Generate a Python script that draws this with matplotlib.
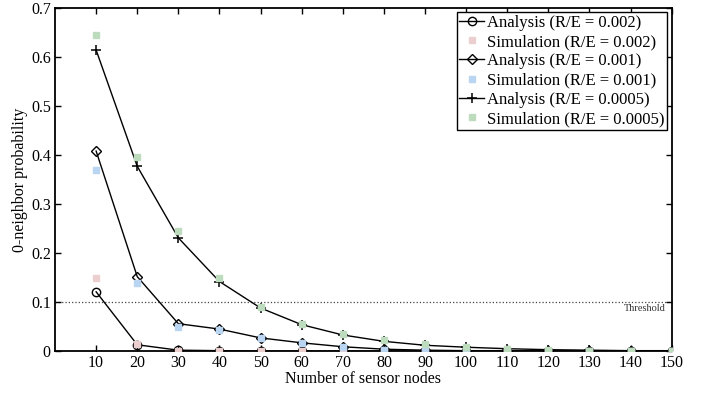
import numpy as np
import matplotlib.pyplot as plt
from matplotlib.lines import Line2D

plt.rcParams['font.family'] = ['Liberation Serif', 'DejaVu Serif']

nodes = [10, 20, 30, 40, 50, 60, 70, 80, 90, 100, 110, 120, 130, 140, 150]

ana_002 = [0.121, 0.013, 0.002, 0.001, 0.0, 0.0, 0.0, 0.0, 0.0, 0.0, 0.0, 0.0, 0.0, 0.0, 0.0]
sim_002 = [0.150, 0.015, 0.001, 0.0, 0.0, 0.0, 0.0, 0.0, 0.0, 0.0, 0.0, 0.0, 0.0, 0.0, 0.0]
ana_001 = [0.408, 0.152, 0.056, 0.045, 0.027, 0.017, 0.009, 0.004, 0.002, 0.001, 0.001, 0.0, 0.0, 0.0, 0.0]
sim_001 = [0.370, 0.138, 0.049, 0.043, 0.026, 0.016, 0.009, 0.003, 0.002, 0.001, 0.0, 0.0, 0.0, 0.0, 0.0]
ana_0005 = [0.614, 0.377, 0.231, 0.142, 0.088, 0.054, 0.033, 0.020, 0.012, 0.008, 0.005, 0.003, 0.002, 0.001, 0.001]
sim_0005 = [0.645, 0.395, 0.245, 0.150, 0.090, 0.055, 0.035, 0.022, 0.014, 0.009, 0.005, 0.003, 0.001, 0.001, 0.0]

threshold = 0.1

fig = plt.figure(figsize=(7.1, 3.95), dpi=100)
ax = fig.add_axes([0.0775, 0.111, 0.8685, 0.869])

pink = '#ebcfcf'
blue = '#b9d5f2'
green = '#bddcbd'

ax.axhline(threshold, color='#444444', linestyle=':', linewidth=0.9, zorder=1)
ax.text(148.5, threshold - 0.004, 'Threshold', fontsize=7.5, ha='right', va='top',
        color='#333333')

ax.plot(nodes, ana_002, '-', color='black', marker='o', mfc='none', mec='black',
        markersize=6, linewidth=1, zorder=3)
ax.plot(nodes, ana_001, '-', color='black', marker='D', mfc='none', mec='black',
        markersize=5, linewidth=1, zorder=3)
ax.plot(nodes, ana_0005, '-', color='black', marker='+', mec='black',
        markersize=7, markeredgewidth=1.1, linewidth=1, zorder=3)

ax.plot(nodes, sim_002, 's', color=pink, markersize=5, zorder=4)
ax.plot(nodes, sim_001, 's', color=blue, markersize=5, zorder=4)
ax.plot(nodes, sim_0005, 's', color=green, markersize=5, zorder=4)

ax.set_xlim(0, 150)
ax.set_ylim(0, 0.7)
ax.set_xticks(nodes)
ax.set_xticklabels([str(n) for n in nodes])
ax.set_yticks([0, 0.1, 0.2, 0.3, 0.4, 0.5, 0.6, 0.7])
ax.set_yticklabels(['0', '0.1', '0.2', '0.3', '0.4', '0.5', '0.6', '0.7'])
ax.tick_params(direction='in', top=True, right=True, labelsize=11.5, length=4,
               width=1, pad=3)
for s in ax.spines.values():
    s.set_linewidth(1.3)

ax.set_xlabel('Number of sensor nodes', fontsize=11.5, labelpad=0)
ax.set_ylabel('0-neighbor probability', fontsize=11.5, labelpad=2)

handles = [
    Line2D([], [], color='black', marker='o', mfc='none', markersize=6, linewidth=1),
    Line2D([], [], color=pink, marker='s', linestyle='none', markersize=5),
    Line2D([], [], color='black', marker='D', mfc='none', markersize=5, linewidth=1),
    Line2D([], [], color=blue, marker='s', linestyle='none', markersize=5),
    Line2D([], [], color='black', marker='+', markersize=7, markeredgewidth=1.1, linewidth=1),
    Line2D([], [], color=green, marker='s', linestyle='none', markersize=5),
]
labels = ['Analysis (R/E = 0.002)', 'Simulation (R/E = 0.002)',
          'Analysis (R/E = 0.001)', 'Simulation (R/E = 0.001)',
          'Analysis (R/E = 0.0005)', 'Simulation (R/E = 0.0005)']
leg = ax.legend(handles, labels, loc='upper right', fontsize=12, fancybox=False,
                edgecolor='black', framealpha=1, borderpad=0.15, labelspacing=0.2,
                handlelength=1.5, handletextpad=0.2, borderaxespad=0.25)
leg.get_frame().set_linewidth(1.0)

fig.savefig('out.png', dpi=100)
